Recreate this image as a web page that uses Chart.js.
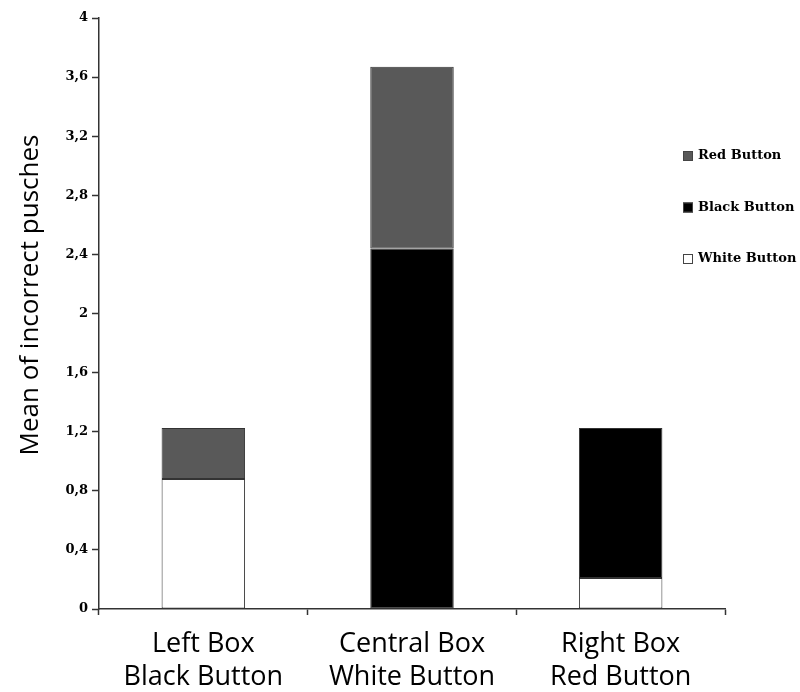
<!DOCTYPE html>
<html>
<head>
<meta charset="utf-8">
<script src="https://cdn.jsdelivr.net/npm/chart.js@4/dist/chart.umd.min.js"></script>
<style>
  html, body { margin: 0; padding: 0; background: #fff; }
  #wrap { width: 800px; height: 692px; }
</style>
</head>
<body>
<div id="wrap"><canvas id="grafico" width="800" height="692"></canvas></div>
<script>
// data
const categorias = [['Left Box', 'Black Button'], ['Central Box', 'White Button'], ['Right Box', 'Red Button']];
const blanco = [0.88, null, 0.21];
const negro = [null, 2.44, 1.015];
const rojo = [0.345, 1.23, null];
const ticksY = [0, 0.4, 0.8, 1.2, 1.6, 2, 2.4, 2.8, 3.2, 3.6, 4];
const tituloY = 'Mean of incorrect pusches';

const fmt = v => String(Math.round(v * 10) / 10).replace('.', ',');

// legend at the right (top item = Red Button) and the y title, a bit above the axis middle
const extras = {
  id: 'extras',
  afterDraw(chart) {
    const ctx = chart.ctx;
    const ds = chart.data.datasets.slice().reverse();
    ctx.save();
    ctx.font = 'bold 13px "DejaVu Serif"';
    ctx.textBaseline = 'middle';
    ds.forEach((d, i) => {
      const y = 156 + i * 51.5;
      ctx.fillStyle = d.backgroundColor;
      ctx.fillRect(683, y - 5, 10, 10);
      ctx.strokeStyle = '#444';
      ctx.lineWidth = 1;
      ctx.strokeRect(683.5, y - 4.5, 9, 9);
      ctx.fillStyle = '#000';
      ctx.fillText(d.label, 698, y);
    });
    ctx.restore();

    ctx.save();
    ctx.translate(38, 295);
    ctx.rotate(-Math.PI / 2);
    ctx.font = '26px "Open Sans"';
    ctx.fillStyle = '#000';
    ctx.textAlign = 'center';
    ctx.textBaseline = 'alphabetic';
    ctx.fillText(tituloY, 0, 0);
    ctx.restore();
  }
};

const ctx = document.getElementById('grafico').getContext('2d');

new Chart(ctx, {
  type: 'bar',
  data: {
    labels: categorias,
    datasets: [
      { label: 'White Button', data: blanco, backgroundColor: '#ffffff' },
      { label: 'Black Button', data: negro, backgroundColor: '#000000' },
      { label: 'Red Button', data: rojo, backgroundColor: '#595959' }
    ].map(d => Object.assign(d, {
      borderColor: '#333',
      borderWidth: 1,
      borderSkipped: false,
      barPercentage: 0.4,
      categoryPercentage: 1
    }))
  },
  options: {
    responsive: false,
    animation: false,
    layout: { padding: { top: 18, right: 75, left: 0, bottom: 0 } },
    plugins: { legend: { display: false }, tooltip: { enabled: false } },
    scales: {
      x: {
        stacked: true,
        afterFit: s => { s.height = 83; },
        grid: { drawOnChartArea: false, tickLength: 6, tickColor: '#333', tickWidth: 1.5 },
        border: { color: '#333', width: 1.5 },
        ticks: {
          color: '#000',
          padding: 13,
          maxRotation: 0,
          font: { family: '"Open Sans"', size: 27, lineHeight: 1.22 }
        }
      },
      y: {
        stacked: true,
        min: 0,
        max: 4,
        afterFit: s => { s.width = 99; },
        afterBuildTicks: s => { s.ticks = ticksY.map(v => ({ value: v })); },
        grid: { drawOnChartArea: false, tickLength: 7, tickColor: '#333', tickWidth: 1.5 },
        border: { color: '#333', width: 1.5 },
        ticks: {
          color: '#000',
          padding: 4,
          callback: v => fmt(v),
          font: { family: '"DejaVu Serif"', size: 13, weight: 'bold' }
        }
      }
    }
  },
  plugins: [extras]
});
</script>
</body>
</html>
